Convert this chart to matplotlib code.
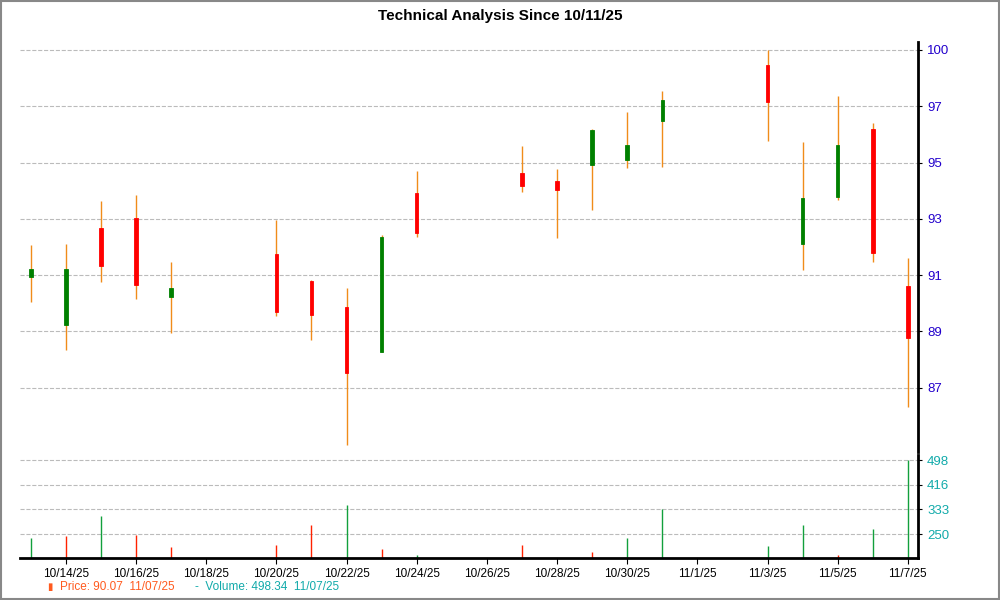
import matplotlib.pyplot as plt
import matplotlib.dates as mdates
from matplotlib.patches import Rectangle
import pandas as pd

plt.rcParams['font.family'] = ['Liberation Sans', 'DejaVu Sans']

# ── Data ─────────────────────────────────────────────────────────────────────
dates = pd.to_datetime([
    "2025-10-13", "2025-10-14", "2025-10-15", "2025-10-16", "2025-10-17",
    "2025-10-20", "2025-10-21", "2025-10-22", "2025-10-23", "2025-10-24",
    "2025-10-27", "2025-10-28", "2025-10-29", "2025-10-30", "2025-10-31",
    "2025-11-03", "2025-11-04", "2025-11-05", "2025-11-06", "2025-11-07",
])
opens  = [90.84, 88.99, 92.75, 93.12, 90.09, 91.75, 90.68, 89.70, 87.95, 94.09,
          94.86, 94.56, 95.17, 95.36, 96.86, 99.01, 92.10, 93.95, 96.55, 90.51]
closes = [91.15, 91.14, 91.26, 90.52, 90.41, 89.49, 89.37, 87.14, 92.37, 92.56,
          94.36, 94.21, 96.51, 95.94, 97.67, 97.59, 93.90, 95.94, 91.79, 88.49]
highs  = [92.07, 92.11, 93.76, 93.99, 91.42, 93.06, 90.73, 90.41, 92.46, 94.95,
          95.91, 95.02, 96.55, 97.22, 98.02, 99.58, 96.06, 97.83, 96.79, 91.56]
lows   = [89.88, 88.04, 90.66, 89.99, 88.68, 89.36, 88.42, 84.35, 87.95, 92.39,
          94.12, 92.35, 93.42, 95.04, 95.08, 96.10, 91.11, 93.80, 91.43, 85.82]
volumes = [236.7, 243.0, 309.8, 246.7, 206.8, 213.5, 280.7, 348.6, 201.0, 180.0,
           213.5, 170.0, 191.0, 236.7, 336.0, 210.0, 280.7, 181.0, 267.0, 498.34]
vol_up = [True, False, True, False, False, False, False, True, False, True,
          False, False, False, True, True, True, True, False, True, True]

price_ticks = [86.58, 88.75, 90.92, 93.09, 95.26, 97.43, 99.60]
vol_ticks = [250, 333, 416, 498]

# ── Figure ───────────────────────────────────────────────────────────────────
fig = plt.figure(figsize=(10, 6), dpi=100)
fig.patches.append(Rectangle((0.001, 0.001), 0.998, 0.998, transform=fig.transFigure,
                             fill=False, ec='#888888', lw=1.5))

ax = fig.add_axes([0.02, 0.2467, 0.898, 0.683])
axv = fig.add_axes([0.02, 0.07, 0.898, 0.1717], sharex=ax)

x = mdates.date2num(dates)
bw = 0.1
for xi, o, c, h, l in zip(x, opens, closes, highs, lows):
    ax.vlines(xi, l, h, color='#f08c1a', lw=1, zorder=2)
    col = '#008000' if c >= o else '#ff0000'
    ax.add_patch(Rectangle((xi - bw / 2, min(o, c)), bw, abs(c - o),
                           fc=col, ec=col, lw=0.6, zorder=3))

x0 = mdates.date2num(pd.Timestamp("2025-10-12")) + 0.69
x1 = mdates.date2num(pd.Timestamp("2025-11-07")) + 0.29
ax.set_xlim(x0, x1)
ax.set_ylim(84.1, 99.9)
ax.yaxis.tick_right()
ax.set_yticks(price_ticks)
ax.set_yticklabels([f"{v:.0f}" for v in price_ticks], color='#2200cc', fontsize=9.5)
ax.grid(axis='y', color='#bbbbbb', ls='--', lw=0.8)
for s in ['top', 'left', 'bottom']:
    ax.spines[s].set_visible(False)
ax.spines['right'].set_linewidth(2)
ax.tick_params(axis='x', which='both', bottom=False, labelbottom=False)
ax.tick_params(axis='y', length=3)

vcol = ['#12a03c' if u else '#ff2200' for u in vol_up]
axv.vlines(x, 171, volumes, colors=vcol, lw=1)
axv.set_ylim(171, 515)
axv.yaxis.tick_right()
axv.set_yticks(vol_ticks)
axv.set_yticklabels([str(v) for v in vol_ticks], color='#11aaaa', fontsize=9.5)
axv.grid(axis='y', color='#bbbbbb', ls='--', lw=0.8)
for s in ['top', 'left']:
    axv.spines[s].set_visible(False)
axv.spines['right'].set_linewidth(2)
axv.spines['bottom'].set_linewidth(2)
axv.set_xticks(mdates.date2num(pd.date_range("2025-10-14", "2025-11-07", freq="2D")))
axv.xaxis.set_major_formatter(mdates.DateFormatter('%-m/%-d/%y'))
axv.tick_params(axis='x', labelsize=8.5, length=4)
axv.tick_params(axis='y', length=3)

fig.text(0.5, 0.985, "Technical Analysis Since 10/11/25", ha='center', va='top',
         fontsize=11, fontweight='bold')
fig.text(0.047, 0.022, "\u25ae", color='#ff5a1e', fontsize=7, va='center')
fig.text(0.06, 0.022, "Price: 90.07  11/07/25", color='#ff5a1e', fontsize=8.5, va='center')
fig.text(0.195, 0.022, "-  Volume: 498.34  11/07/25", color='#11aaaa', fontsize=8.5, va='center')

fig.savefig("out.png", dpi=100)
